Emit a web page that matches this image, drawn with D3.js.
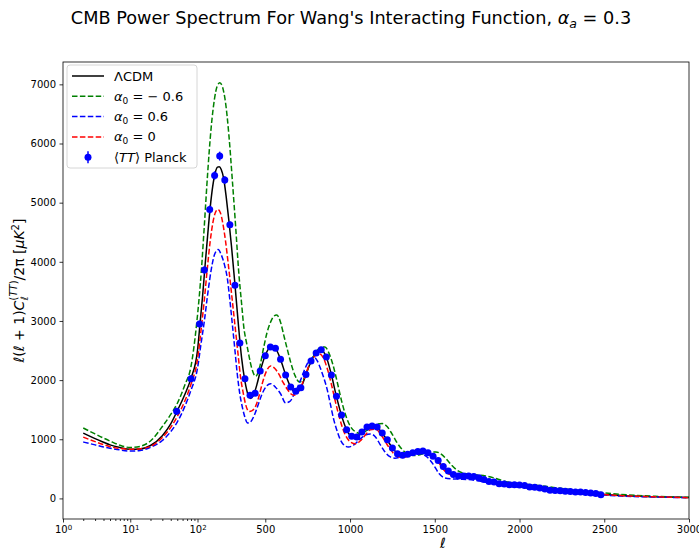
<!DOCTYPE html>
<html>
<head>
<meta charset="utf-8">
<script src="https://cdn.jsdelivr.net/npm/d3@7"></script>
<style>
  body { margin: 0; background: #fff; }
  svg { display: block; font-family: "DejaVu Sans", sans-serif; }
</style>
</head>
<body>
<svg width="699" height="553"></svg>
<script>
// multipoles (ell) and D_ell values
var lcdmL = [2,3,4,5,7,10,14,20,30,40,50,65,80,100,115,130,145,160,175,190,205,218,228,240,255,270,285,300,320,340,360,380,400,413,430,450,475,500,531,560,590,620,650,679,710,740,770,800,830,860,890,920,950,980,1010,1039,1070,1100,1128,1160,1190,1220,1250,1280,1310,1340,1370,1400,1427,1457,1486,1516,1545,1575,1604,1634,1663,1693,1722,1752,1782,1811,1841,1870,1900,1930,1960,1990,2020,2050,2100,2200,2300,2400,2500,2600,2800,3000];
var lcdmD = [1105,1010,950,905,860,830,835,895,1060,1260,1480,1760,2030,2500,2960,3420,3950,4450,4920,5280,5510,5600,5606,5560,5400,5080,4700,4280,3650,2980,2380,1980,1740,1690,1740,1920,2200,2420,2560,2530,2350,2090,1880,1790,1870,2090,2320,2460,2510,2390,2090,1720,1400,1160,1050,1040,1115,1200,1225,1200,1105,980,855,760,728,742,772,795,802,775,712,640,545,465,410,385,378,376,370,350,322,292,275,252,240,232,228,224,215,198,180,142,115,92,68,50,30,14];

// alpha_0 = -0.6
var negL = [2,3,4,5,7,10,14,20,30,40,50,65,80,97,110,124,140,160,180,200,216,232,248,265,285,305,325,344,360,373,390,403,420,443,465,491,510,531,550,567,590,609,630,650,675,700,725,750,775,800,825,852,875,900,925,950,975,1000,1030,1063,1100,1130,1160,1190,1220,1250,1280,1310,1345,1380,1420,1460,1506,1540,1570,1600,1630,1660,1700,1750,1800,1850,1900,1950,2000,2100,2200,2300,2400,2500,2600,2800,3000];
var negD = [1190,1090,1020,970,900,860,880,970,1215,1420,1605,1920,2230,2950,3400,3900,4600,5500,6250,6750,6970,7027,6950,6700,6150,5400,4600,3800,3300,2900,2620,2420,2200,2065,2200,2560,2800,2980,3080,3100,2980,2760,2520,2300,2080,1970,2010,2180,2350,2480,2550,2560,2460,2250,1960,1650,1400,1230,1130,1100,1150,1210,1255,1265,1210,1080,930,820,745,725,745,775,785,745,660,560,480,435,410,398,380,345,300,268,248,222,185,150,120,92,68,36,18];

// alpha_0 = 0.6
var posL = [2,3,4,5,7,10,14,20,30,40,50,65,80,100,120,140,160,180,200,222,240,260,276,290,305,320,334,350,364,380,393,405,420,440,460,480,505,531,560,590,620,645,670,690,708,728,748,768,787,806,826,846,866,885,905,925,944,965,990,1020,1055,1090,1120,1150,1180,1205,1235,1265,1300,1340,1380,1417,1450,1490,1525,1560,1600,1650,1700,1750,1800,1850,1900,2000,2100,2200,2300,2400,2500,2600,2800,3000];
var posD = [953,905,870,850,820,800,810,865,980,1130,1290,1560,1830,2200,2600,2990,3450,3850,4120,4208,4120,3940,3720,3380,2960,2530,2120,1760,1550,1370,1280,1275,1320,1440,1600,1760,1890,1940,1880,1770,1615,1640,1760,1880,2000,2150,2280,2360,2391,2330,2195,2030,1830,1580,1320,1130,985,900,868,900,990,1070,1090,1040,900,790,705,680,700,730,752,756,710,580,420,345,330,325,318,300,272,245,220,190,160,128,100,78,56,40,24,11];

// alpha_0 = 0
var zeroL = [2,3,4,5,7,10,14,20,30,40,50,65,80,100,125,140,157,175,190,205,220,235,250,265,280,295,310,324,340,354,370,383,403,420,443,460,481,505,531,555,580,605,629,650,669,690,710,735,760,790,816,840,865,890,915,940,965,1000,1033,1065,1095,1120,1150,1180,1210,1240,1279,1310,1340,1380,1437,1480,1520,1555,1590,1630,1700,1750,1800,1850,1900,1950,2000,2100,2200,2300,2400,2500,2600,2800,3000];
var zeroD = [1037,960,910,875,845,830,840,880,1030,1200,1385,1650,1930,2350,2950,3350,3860,4350,4650,4830,4885,4830,4640,4360,4000,3620,3220,2850,2420,2050,1780,1600,1470,1480,1560,1700,1930,2140,2240,2200,2100,1960,1850,1770,1743,1780,1880,2070,2260,2400,2448,2390,2200,1930,1620,1340,1120,960,925,985,1090,1160,1170,1090,950,820,710,690,710,760,790,745,620,475,405,380,370,352,322,288,258,238,226,192,152,118,92,65,47,28,12];

// Planck binned <TT>
var planckL = [49,80,112,141,172,201,231,261,291,321,350,380,410,440,470,500,530,560,590,620,650,680,710,740,770,800,830,860,890,920,950,980,1010,1040,1070,1100,1130,1160,1190,1220,1250,1280,1310,1340,1370,1400,1430,1460,1490,1520,1550,1580,1610,1640,1670,1700,1730,1760,1790,1820,1850,1880,1910,1940,1970,2000,2030,2060,2090,2120,2150,2180,2210,2240,2270,2300,2330,2360,2390,2420,2450,2480];
var planckD = [1472,2025,2949,3863,4885,5460,5787,5381,4625,3604,2628,2025,1743,1777,2154,2414,2560,2538,2352,2086,1883,1810,1873,2093,2323,2459,2515,2391,2086,1726,1410,1162,1049,1037,1122,1206,1223,1206,1105,993,851,756,728,745,773,795,800,773,711,643,541,462,406,377,377,377,372,350,321,288,277,248,242,231,231,225,220,192,190,175,160,140,135,128,120,118,110,107,100,92,85,60];
var planckErr = [60,55,55,60,65,70,75,65,55,45,40,35,30,30,30,30,30,30,28,25,25,22,22,22,22,22,22,20,20,18,18,16,15,15,15,15,15,14,14,13,12,12,12,12,12,12,12,12,12,12,11,10,10,10,10,10,10,10,10,10,10,10,10,10,10,10,10,10,10,10,10,10,10,10,10,10,12,12,12,14,14,16];

var xLogTicks = [1, 10, 100],
    xLinTicks = [500, 1000, 1500, 2000, 2500, 3000],
    xMinorTicks = [2,3,4,5,6,7,8,9,20,30,40,50,60,70,80,90],
    yTicks = [0, 1000, 2000, 3000, 4000, 5000, 6000, 7000];

var svg = d3.select("svg"),
    margin = {top: 62, right: 10, bottom: 34, left: 63},
    width = +svg.attr("width") - margin.left - margin.right,
    height = +svg.attr("height") - margin.top - margin.bottom;

// log part 1..100 then linear 100..3000
var logW = 134.5;
var xLog = d3.scaleLog().domain([1, 100]).range([0, logW]),
    xLin = d3.scaleLinear().domain([100, 3000]).range([logW, width]);
function xScale(l) { return l <= 100 ? xLog(l) : xLin(l); }

var yScale = d3.scaleLinear().domain([-348, 7378]).range([height, 0]);

var g = svg.append("g")
    .attr("transform", "translate(" + margin.left + "," + margin.top + ")");

var defs = svg.append("defs");
defs.append("clipPath").attr("id", "clip")
    .append("rect").attr("width", width).attr("height", height);

// y axis
g.append("g")
    .attr("class", "axis")
    .call(d3.axisLeft(yScale).tickValues(yTicks).tickSize(3.5).tickPadding(3.5).tickFormat(d3.format("d")))
    .call(function(a) { a.select(".domain").remove(); });

// x axis, two pieces + minor ticks
g.append("g")
    .attr("transform", "translate(0," + height + ")")
    .call(d3.axisBottom(xLog).tickValues(xMinorTicks).tickSize(2).tickFormat(""))
    .call(function(a) { a.select(".domain").remove(); });

g.append("g")
    .attr("class", "axis xlog")
    .attr("transform", "translate(0," + height + ")")
    .call(d3.axisBottom(xLog).tickValues(xLogTicks).tickSize(3.5).tickPadding(3.5).tickFormat(""))
    .call(function(a) { a.select(".domain").remove(); });

g.select(".xlog").selectAll(".tick text").each(function(d) {
    var t = d3.select(this);
    t.text("10");
    t.append("tspan").attr("dy", "-0.45em").attr("font-size", "7px").text(Math.round(Math.log10(d)));
});

g.append("g")
    .attr("class", "axis")
    .attr("transform", "translate(0," + height + ")")
    .call(d3.axisBottom(xLin).tickValues(xLinTicks).tickSize(3.5).tickPadding(3.5).tickFormat(d3.format("d")))
    .call(function(a) { a.select(".domain").remove(); });

svg.selectAll(".tick text").attr("font-size", "10px").attr("font-family", "DejaVu Sans").attr("fill", "#000");
svg.selectAll(".tick line").attr("stroke", "#000").attr("stroke-width", 0.8);

var line = d3.line()
    .x(function(d) { return xScale(d[0]); })
    .y(function(d) { return yScale(d[1]); })
    .curve(d3.curveMonotoneX);

var plot = g.append("g").attr("clip-path", "url(#clip)");

var series = [
    {L: lcdmL, D: lcdmD, color: "#000000", dash: null},
    {L: negL, D: negD, color: "#008000", dash: "5.5,2.4"},
    {L: posL, D: posD, color: "#0000ff", dash: "5.5,2.4"},
    {L: zeroL, D: zeroD, color: "#ff0000", dash: "5.5,2.4"}
];

series.forEach(function(s) {
    plot.append("path")
        .datum(s.L.map(function(l, i) { return [l, s.D[i]]; }))
        .attr("fill", "none")
        .attr("stroke", s.color)
        .attr("stroke-width", 1.5)
        .attr("stroke-dasharray", s.dash)
        .attr("d", line);
});

var planck = planckL.map(function(l, i) { return {l: l, d: planckD[i], e: planckErr[i]}; });

plot.selectAll(".err")
    .data(planck)
    .enter().append("line")
    .attr("x1", function(d) { return xScale(d.l); })
    .attr("x2", function(d) { return xScale(d.l); })
    .attr("y1", function(d) { return yScale(d.d - d.e); })
    .attr("y2", function(d) { return yScale(d.d + d.e); })
    .attr("stroke", "#0000ff")
    .attr("stroke-width", 1.5);

plot.selectAll(".pt")
    .data(planck)
    .enter().append("circle")
    .attr("cx", function(d) { return xScale(d.l); })
    .attr("cy", function(d) { return yScale(d.d); })
    .attr("r", 3.5)
    .attr("fill", "#0000ff");

// frame
g.append("rect")
    .attr("width", width).attr("height", height)
    .attr("fill", "none").attr("stroke", "#000").attr("stroke-width", 0.8);

// legend
var leg = g.append("g").attr("transform", "translate(4,3)");
leg.append("rect")
    .attr("width", 130).attr("height", 103).attr("rx", 3)
    .attr("fill", "#fff").attr("fill-opacity", 0.8)
    .attr("stroke", "#ccc").attr("stroke-width", 0.8);

var legItems = [
    {color: "#000000", dash: null, base: "ΛCDM", val: null},
    {color: "#008000", dash: "5.5,2.4", base: "α", val: " = \u2212 0.6"},
    {color: "#0000ff", dash: "5.5,2.4", base: "α", val: " = 0.6"},
    {color: "#ff0000", dash: "5.5,2.4", base: "α", val: " = 0"}
];

legItems.forEach(function(it, i) {
    var y = 11 + i * 20.3;
    leg.append("line")
        .attr("x1", 5).attr("x2", 37).attr("y1", y).attr("y2", y)
        .attr("stroke", it.color).attr("stroke-width", 1.5)
        .attr("stroke-dasharray", it.dash);
    var t = leg.append("text").attr("x", 47).attr("y", y + 4.5).attr("font-size", "13px");
    if (it.val === null) {
        t.text(it.base);
    } else {
        t.append("tspan").attr("font-style", "italic").text(it.base);
        t.append("tspan").attr("font-size", "9px").attr("dy", 3).text("0");
        t.append("tspan").attr("dy", -3).text(it.val);
    }
});

var ly = 11 + 4 * 20.3;
leg.append("line").attr("x1", 21).attr("x2", 21).attr("y1", ly - 6).attr("y2", ly + 6)
    .attr("stroke", "#0000ff").attr("stroke-width", 1.5);
leg.append("circle").attr("cx", 21).attr("cy", ly).attr("r", 3.5).attr("fill", "#0000ff");
var pt = leg.append("text").attr("x", 47).attr("y", ly + 4.5).attr("font-size", "13px");
pt.append("tspan").text("\u27E8");
pt.append("tspan").attr("font-style", "italic").text("TT");
pt.append("tspan").text("\u27E9 Planck");

// axis labels
svg.append("text")
    .attr("x", 443).attr("y", 548)
    .attr("text-anchor", "middle")
    .attr("font-size", "14px").attr("font-style", "italic")
    .text("ℓ");

var yl = svg.append("text")
    .attr("transform", "translate(24," + (margin.top + height / 2) + ") rotate(-90)")
    .attr("text-anchor", "middle")
    .attr("font-size", "14px");
yl.append("tspan").attr("font-style", "italic").text("ℓ");
yl.append("tspan").text("(");
yl.append("tspan").attr("font-style", "italic").text("ℓ");
yl.append("tspan").text(" + 1)");
yl.append("tspan").attr("font-style", "italic").text("C");
yl.append("tspan").attr("font-style", "italic").attr("font-size", "10px").attr("dy", 4).text("ℓ");
yl.append("tspan").attr("font-size", "10px").attr("dx", -4).attr("dy", -11).text("(");
yl.append("tspan").attr("font-size", "10px").attr("font-style", "italic").text("TT");
yl.append("tspan").attr("font-size", "10px").text(")");
yl.append("tspan").attr("dy", 7).text("/2π [");
yl.append("tspan").attr("font-style", "italic").text("μK");
yl.append("tspan").attr("font-size", "10px").attr("dy", -5).text("2");
yl.append("tspan").attr("dy", 5).text("]");

// title
var title = svg.append("text")
    .attr("x", 351).attr("y", 24)
    .attr("text-anchor", "middle")
    .attr("font-size", "17.7px");
title.append("tspan").text("CMB Power Spectrum For Wang's Interacting Function, ");
title.append("tspan").attr("font-style", "italic").text("α");
title.append("tspan").attr("font-style", "italic").attr("font-size", "12.5px").attr("dy", 4).text("a");
title.append("tspan").attr("dy", -4).text(" = 0.3");
</script>
</body>
</html>
